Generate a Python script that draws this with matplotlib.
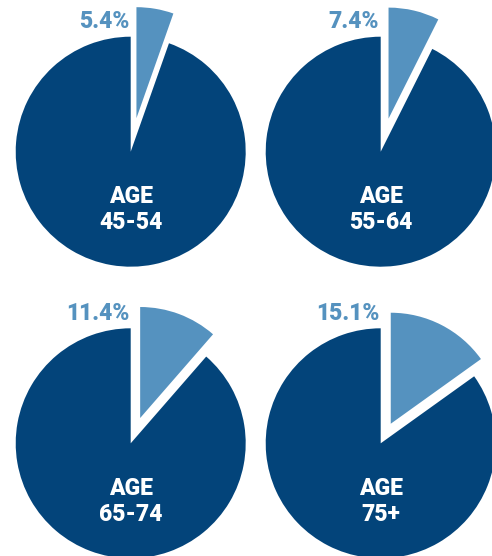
import matplotlib
matplotlib.use("Agg")
import matplotlib.pyplot as plt

# share of each age group (light wedge), in percent
age_groups = ["45-54", "55-64", "65-74", "75+"]
shares = [5.4, 7.4, 11.4, 15.1]

dark = "#03447a"
light = "#5592bf"

W, H = 492, 556
fig = plt.figure(figsize=(W / 100, H / 100), dpi=100)
ax = fig.add_axes([0, 0, 1, 1])

R = 115
centers = [(130.7, H - 151.7), (380.7, H - 151.7),
           (130.7, H - 443.3), (380.7, H - 443.3)]
explode_px = [34, 34, 27, 22]

for grp, s, c, ex in zip(age_groups, shares, centers, explode_px):
    wedges, _ = ax.pie([s, 100 - s], colors=[light, dark], startangle=90,
                       counterclock=False, radius=R, center=c,
                       explode=[ex, 0], wedgeprops=dict(linewidth=0))
    wedges[0].set_radius(R - 4)
    ax.text(c[0] - 1.5, c[1] + 130, f"{s}%", ha="right", va="center",
            color=light, fontsize=16.5, fontweight="black", family="Roboto")
    ax.text(c[0], c[1] - 45, "AGE", ha="center", va="center",
            color="white", fontsize=16.5, fontweight="black", family="Roboto")
    ax.text(c[0], c[1] - 71, grp, ha="center", va="center",
            color="white", fontsize=16.5, fontweight="black", family="Roboto")

ax.set_xlim(0, W)
ax.set_ylim(0, H)
ax.set_aspect("equal")
ax.axis("off")

fig.savefig("out.png", dpi=100)
